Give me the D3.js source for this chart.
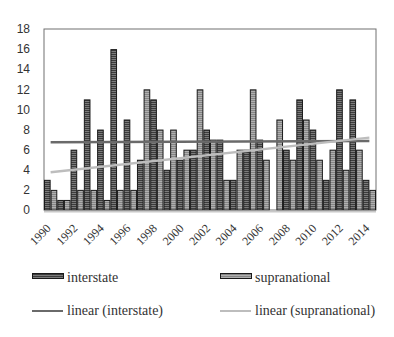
<!DOCTYPE html>
<html><head><meta charset="utf-8">
<script src="https://cdn.jsdelivr.net/npm/d3@7"></script>
<style>html,body{margin:0;padding:0;background:#fff;}</style>
</head><body><svg id="c" width="394" height="337"></svg>
<script>
const years = [1990,1991,1992,1993,1994,1995,1996,1997,1998,1999,2000,2001,2002,2003,2004,2005,2006,2007,2008,2009,2010,2011,2012,2013,2014];
const interstate = [3,1,6,11,8,16,9,5,11,4,5,6,8,7,3,6,7,0,6,11,8,3,12,11,3];
const supranational = [2,1,2,2,1,2,2,12,8,8,6,12,7,3,6,12,5,9,5,9,5,6,4,6,2];
const yTicks = [0,2,4,6,8,10,12,14,16,18];
const xTickLabels = [1990,1992,1994,1996,1998,2000,2002,2004,2006,2008,2010,2012,2014];
const seriesNames = ["interstate","supranational"];
const trendNames = ["linear (interstate)","linear (supranational)"];

const svg = d3.select("#c");
const L = 44, R = 376, T = 29, B = 210;
const x = d3.scaleBand().domain(years).range([L, R]).padding(0);
const xs = d3.scaleBand().domain(seriesNames).range([0, x.bandwidth()]).padding(0);
const y = d3.scaleLinear().domain([0, 18]).range([B, T]);

const defs = svg.append("defs");
function stripe(id, a, b) {
  const p = defs.append("pattern").attr("id", id).attr("patternUnits", "userSpaceOnUse")
    .attr("width", 4).attr("height", 2);
  p.append("rect").attr("width", 4).attr("height", 1).attr("fill", a);
  p.append("rect").attr("y", 1).attr("width", 4).attr("height", 1).attr("fill", b);
}
stripe("pd", "#3c3c3c", "#7c7c7c");
stripe("pl", "#858585", "#b0b0b0");
const fills = {interstate: "url(#pd)", supranational: "url(#pl)"};

// frame
svg.append("rect").attr("x", L).attr("y", T).attr("width", R - L).attr("height", B - T)
  .attr("fill", "none").attr("stroke", "#707070").attr("stroke-width", 1);

// bars
const data = {interstate, supranational};
seriesNames.forEach(s => {
  svg.append("g").selectAll("rect").data(years.map((yr, i) => ({yr, v: data[s][i]})).filter(d => d.v > 0))
    .join("rect")
    .attr("x", d => x(d.yr) + xs(s) + 0.5)
    .attr("y", d => y(d.v) + 0.5)
    .attr("width", xs.bandwidth() - 1)
    .attr("height", d => y(0) - y(d.v) - 0.5)
    .attr("fill", fills[s]).attr("stroke", "#1a1a1a").attr("stroke-width", 1);
});

// baseline
svg.append("line").attr("x1", L).attr("x2", R).attr("y1", B + 1.5).attr("y2", B + 1.5)
  .attr("stroke", "#c8c8c8").attr("stroke-width", 2);

// trend lines (least squares)
function fit(vals) {
  const n = vals.length, xsArr = d3.range(n);
  const mx = d3.mean(xsArr), my = d3.mean(vals);
  let num = 0, den = 0;
  xsArr.forEach((xi, i) => { num += (xi - mx) * (vals[i] - my); den += (xi - mx) * (xi - mx); });
  const m = num / den, b = my - m * mx;
  return [b, b + m * (n - 1)];
}
const trendColors = ["#6a6a6a", "#bdbdbd"];
[interstate, supranational].forEach((vals, k) => {
  const [a, b] = fit(vals);
  const cx0 = x(years[0]) + x.bandwidth() / 2, cx1 = x(years[years.length - 1]) + x.bandwidth() / 2;
  svg.append("line").attr("x1", cx0).attr("x2", cx1).attr("y1", y(a)).attr("y2", y(b))
    .attr("stroke", trendColors[k]).attr("stroke-width", 2.5);
});

// y axis labels
svg.append("g").selectAll("text").data(yTicks).join("text")
  .attr("x", 30).attr("y", d => y(d)).attr("dy", "0.35em").attr("text-anchor", "end")
  .attr("font-family", "Liberation Sans, Arial, sans-serif").attr("font-size", 12).attr("fill", "#333")
  .text(d => d);

// x labels
svg.append("g").selectAll("text").data(xTickLabels).join("text")
  .attr("transform", d => `translate(${x(d) + x.bandwidth() / 2 - 2},${B + 16}) rotate(-45)`)
  .attr("text-anchor", "end").attr("dy", "0.35em")
  .attr("font-family", "Liberation Serif, Times New Roman, serif").attr("font-size", 12).attr("fill", "#333")
  .text(d => d);

// legend
const lg = svg.append("g").attr("font-family", "Liberation Serif, Times New Roman, serif").attr("font-size", 14).attr("fill", "#333");
const cols = [32, 220];
seriesNames.forEach((s, k) => {
  lg.append("rect").attr("x", cols[k] + 0.5).attr("y", 273.5).attr("width", 31).attr("height", 5)
    .attr("fill", fills[s]).attr("stroke", "#1a1a1a");
  lg.append("text").attr("x", cols[k] + 35).attr("y", 282).text(s);
});
trendNames.forEach((s, k) => {
  lg.append("line").attr("x1", cols[k]).attr("x2", cols[k] + 31).attr("y1", 311).attr("y2", 311)
    .attr("stroke", trendColors[k]).attr("stroke-width", 2);
  lg.append("text").attr("x", cols[k] + 35).attr("y", 315).text(s);
});
</script></body></html>
